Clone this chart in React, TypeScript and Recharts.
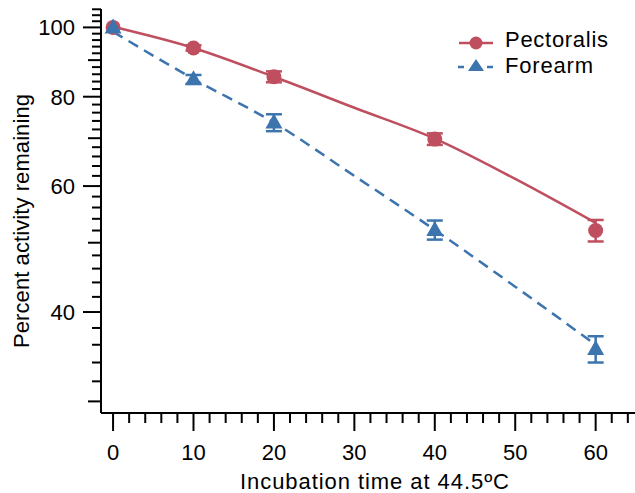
import {
  ComposedChart,
  Line,
  Scatter,
  ErrorBar,
  XAxis,
  YAxis,
} from "recharts";

// smooth fit curves
const fitTimes = [0, 10, 20, 30, 40, 50, 60];
const pectoralisFit = [100.2, 93.6, 85.3, 77.2, 69.9, 61.4, 53.3];
const forearmFit = [98.6, 84.7, 73.6, 62.0, 52.1, 43.4, 36.0];

// measured points with error bars
const sampleTimes = [0, 10, 20, 40, 60];
const pectoralisMean = [100, 93.6, 85.3, 69.8, 52.0];
const pectoralisErr = [0, 0.8, 1.5, 1.3, 1.8];
const forearmMean = [100, 84.6, 73.6, 52.1, 35.5];
const forearmErr = [0, 1.2, 2.0, 1.6, 1.5];

const xTicks = [0, 2, 4, 6, 8, 10, 12, 14, 16, 18, 20, 22, 24, 26, 28, 30, 32, 34, 36, 38, 40, 42, 44, 46, 48, 50, 52, 54, 56, 58, 60, 62, 64, 66];
const yTicks = [30, 32, 34, 36, 38, 40, 42, 44, 46, 48, 50, 52, 54, 56, 58, 60, 62, 64, 66, 68, 70, 72, 74, 76, 78, 80, 82, 84, 86, 88, 90, 92, 94, 96, 98, 100, 102, 104, 106];
const yLabeled = [40, 60, 80, 100];
const xLabeled = [0, 10, 20, 30, 40, 50, 60];

const RED = "#bf4f5f";
const BLUE = "#3c74ae";
const FONT = '"Liberation Sans", Arial, Helvetica, sans-serif';

const pectFitData = fitTimes.map((t, i) => ({ x: t, y: pectoralisFit[i] }));
const foreFitData = fitTimes.map((t, i) => ({ x: t, y: forearmFit[i] }));
const pectPoints = sampleTimes.map((t, i) => ({ x: t, y: pectoralisMean[i], err: pectoralisErr[i] }));
const forePoints = sampleTimes.map((t, i) => ({ x: t, y: forearmMean[i], err: forearmErr[i] }));

const YTick = (props: any) => {
  const { x, y, payload } = props;
  const v = payload.value;
  const major = yLabeled.includes(v);
  const mid = !major && v % 10 === 0;
  const len = major ? 18 : mid ? 13 : 9;
  return (
    <g>
      <line x1={x - len} x2={x} y1={y} y2={y} stroke="#000" strokeWidth={2} />
      {major && (
        <text x={x - 26} y={y + 8} textAnchor="end" fontSize={22} fontFamily={FONT} fill="#000">
          {v}
        </text>
      )}
    </g>
  );
};

const XTick = (props: any) => {
  const { x, y, payload } = props;
  const v = payload.value;
  const major = xLabeled.includes(v);
  const len = major ? 18 : 10;
  return (
    <g>
      <line x1={x} x2={x} y1={y} y2={y + len} stroke="#000" strokeWidth={2} />
      {major && (
        <text x={x} y={y + 47} textAnchor="middle" fontSize={22} fontFamily={FONT} fill="#000">
          {v}
        </text>
      )}
    </g>
  );
};

const Dot = (props: any) => {
  const { cx, cy } = props;
  return <circle cx={cx} cy={cy} r={7.5} fill={RED} />;
};

const Tri = (props: any) => {
  const { cx, cy } = props;
  return (
    <polygon
      points={`${cx},${cy - 9} ${cx - 8.5},${cy + 6} ${cx + 8.5},${cy + 6}`}
      fill={BLUE}
    />
  );
};

const LegendBox = () => (
  <svg
    width={635}
    height={100}
    style={{ position: "absolute", left: 0, top: 0, pointerEvents: "none" }}
  >
    <line x1={459} x2={493} y1={43} y2={43} stroke={RED} strokeWidth={2.5} />
    <circle cx={476} cy={43} r={6.5} fill={RED} />
    <line x1={458} x2={464} y1={67} y2={67} stroke={BLUE} strokeWidth={2.5} />
    <line x1={487} x2={493} y1={67} y2={67} stroke={BLUE} strokeWidth={2.5} />
    <polygon points="476,59 468,71 484,71" fill={BLUE} />
    <text x={505} y={47} fontSize={22} fontFamily={FONT} fill="#000" textLength={103} lengthAdjust="spacing">
      Pectoralis
    </text>
    <text x={505} y={73} fontSize={22} fontFamily={FONT} fill="#000" textLength={88} lengthAdjust="spacing">
      Forearm
    </text>
  </svg>
);

export default function App() {
  return (
    <div
      style={{
        position: "absolute",
        left: 0,
        top: 0,
        width: 635,
        height: 493,
        overflow: "hidden",
        background: "#fff",
      }}
    >
      <ComposedChart
        width={660}
        height={493}
        margin={{ top: 9, right: 0, bottom: 0, left: 0 }}
      >
        <XAxis
          dataKey="x"
          type="number"
          domain={[-1.5, 68]}
          allowDataOverflow
          ticks={xTicks}
          interval={0}
          height={80}
          tickSize={0}
          tickMargin={0}
          tickLine={false}
          axisLine={{ stroke: "#000", strokeWidth: 2 }}
          tick={<XTick />}
          label={() => (
            <text x={240} y={489} fontSize={22} fontFamily={FONT} fill="#000" textLength={269} lengthAdjust="spacing">
              Incubation time at 44.5ºC
            </text>
          )}
        />
        <YAxis
          type="number"
          scale="log"
          domain={[28.9, 106.1]}
          allowDataOverflow
          ticks={yTicks}
          interval={0}
          width={101}
          tickSize={0}
          tickMargin={0}
          tickLine={false}
          axisLine={{ stroke: "#000", strokeWidth: 2 }}
          tick={<YTick />}
          label={() => (
            <text
              x={29}
              y={348}
              transform="rotate(-90 29 348)"
              fontSize={22}
              fontFamily={FONT}
              fill="#000"
              textLength={254}
              lengthAdjust="spacing"
            >
              Percent activity remaining
            </text>
          )}
        />
        <Line
          data={pectFitData}
          dataKey="y"
          type="monotone"
          stroke={RED}
          strokeWidth={2.5}
          dot={false}
          activeDot={false}
          isAnimationActive={false}
        />
        <Line
          data={foreFitData}
          dataKey="y"
          type="monotone"
          stroke={BLUE}
          strokeWidth={2.5}
          strokeDasharray="11 7"
          dot={false}
          activeDot={false}
          isAnimationActive={false}
        />
        <Scatter data={pectPoints} dataKey="y" shape={<Dot />} isAnimationActive={false}>
          <ErrorBar dataKey="err" direction="y" width={8} stroke={RED} strokeWidth={2.5} isAnimationActive={false} />
        </Scatter>
        <Scatter data={forePoints} dataKey="y" shape={<Tri />} isAnimationActive={false}>
          <ErrorBar dataKey="err" direction="y" width={8} stroke={BLUE} strokeWidth={2.5} isAnimationActive={false} />
        </Scatter>
      </ComposedChart>
      <LegendBox />
    </div>
  );
}
